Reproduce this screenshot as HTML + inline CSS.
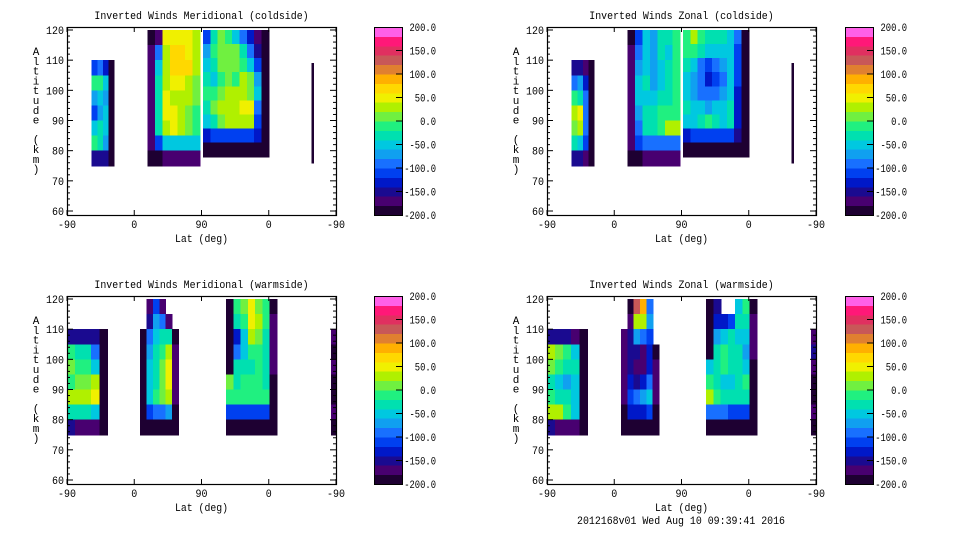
<!DOCTYPE html>
<html><head><meta charset="utf-8">
<style>
html,body{margin:0;padding:0;background:#fff;}
svg{display:block;font-family:"Liberation Mono","DejaVu Sans Mono",monospace;}
text{font-size:11px;fill:#000;}
</style></head>
<body>
<svg id="chart" width="960" height="540" viewBox="0 0 960 540" xmlns="http://www.w3.org/2000/svg"></svg>
<script>
// ---- colour scale (20 bands, -200..200) ----
const levelMin = -200, levelStep = 20;
const bandColors = ["#1e0032","#480070","#1a0a90","#0018c8","#0040f0","#1870ff","#10a0f0","#00c8e0","#00e0b0","#20f080","#70f040","#b0f000","#f0f000","#ffd800","#ffb000","#e08030","#c85858","#e03060","#ff1878","#ff60e8"];
const colorbarLabels = ["200.0","150.0","100.0","50.0","0.0","-50.0","-100.0","-150.0","-200.0"];
const xTickLabels = ["-90","0","90","0","-90"];
const yTickLabels = ["60","70","80","90","100","110","120"];

// ---- panel data: blocks [tStart, tEnd, altBottom, altTop], values rows top->bottom ----
const mcA = [[-120,-100,-130,-190],[-20,-10,-60,-200],[-80,-60,-70,-200],[-110,-70,-50,-200],[-60,-40,-60,-200],[-10,-30,-80,-200],[-150,-150,-160,-200]];
const mcB = [[-200,-180,40,40,50,40,30],[-180,-100,30,70,70,50,20],[-170,-60,20,70,70,60,20],[-170,-40,20,50,40,30,10],[-170,-40,40,30,20,20,0],[-170,-30,50,50,30,10,-10],[-170,-40,20,40,20,0,-20],[-180,-110,-60,-60,-50,-60,-60],[-200,-190,-180,-170,-170,-170,-170]];
const mcC = [[-120,-30,0,-20,-60,-100,-140,-170,-200],[-80,-20,10,10,0,-40,-100,-150,-200],[-60,-40,0,10,10,-20,-60,-120,-200],[-40,-60,-10,0,-10,20,0,-80,-200],[-20,-10,10,20,20,20,10,-60,-200],[-30,10,20,20,30,50,40,-100,-200],[-50,-30,10,20,20,20,20,-120,-200],[-140,-120,-110,-110,-120,-120,-120,-140,-200],[-200,-200,-200,-200,-200,-200,-200,-200,-200]];
const mcD = [[-200],[-200],[-200],[-200],[-200],[-200],[-200]];

const zcA = [[-160,-150,-170,-200],[-100,-80,-130,-200],[-10,-30,-100,-200],[30,50,-100,-200],[0,30,-100,-200],[-40,-60,-120,-200],[-160,-160,-170,-200]];
const zcB = [[-200,-120,-60,-80,-40,-40,-20],[-180,-90,-50,-80,-40,-50,-20],[-170,-80,-60,-70,-60,-30,-10],[-170,-60,-40,-70,-60,-40,-20],[-170,-60,-50,-60,-40,-30,-20],[-170,-80,-40,-30,-20,-10,-20],[-170,-90,-40,-30,-20,30,20],[-180,-120,-100,-100,-100,-100,-90],[-200,-190,-180,-170,-170,-170,-170]];
const zcC = [[-20,20,-20,-30,-40,-40,-50,-100,-200],[-20,-20,-40,-50,-60,-50,-60,-110,-200],[-40,-60,-90,-110,-100,-80,-60,-110,-200],[-50,-80,-100,-130,-120,-90,-60,-120,-200],[-50,-70,-90,-100,-100,-80,-50,-130,-200],[-40,-60,-60,-70,-60,-50,-40,-140,-200],[-60,-50,-30,-20,-40,-50,-40,-140,-200],[-140,-120,-110,-110,-120,-120,-120,-150,-200],[-200,-200,-200,-200,-200,-200,-200,-200,-200]];
const zcD = [[-200],[-200],[-200],[-200],[-200],[-200],[-200]];

const mwA = [[-150,-150,-150,-160,-200],[-20,-30,-40,-90,-200],[0,-10,-10,-50,-200],[-10,10,0,20,-200],[30,30,30,50,-200],[-30,-40,-40,-60,-200],[-160,-170,-170,-180,-200]];
const mwB = [[null,-180,-120,-180,null,null],[null,-150,-80,-100,-170,null],[-190,-100,-60,-40,-40,-190],[-190,-80,-40,-20,20,-180],[-190,-60,-30,0,40,-170],[-190,-60,-30,10,40,-170],[-190,-60,-20,0,20,-180],[-190,-120,-100,-90,-80,-190],[-200,-200,-200,-200,-200,-200]];
const mwC = [[-200,-20,10,40,10,-20,-190],[-190,-40,-20,50,20,-20,-180],[-190,-140,-60,30,0,-30,-170],[-190,-100,-60,-20,-20,-40,-170],[-190,-40,-40,-30,-20,-40,-180],[10,-30,-20,-20,-10,-30,-190],[-10,-20,-10,-10,-10,-20,-190],[-110,-110,-110,-110,-110,-120,-190],[-200,-200,-200,-200,-200,-200,-200]];
const mwD = [[-180],[-190],[-170],[-190],[-200],[-180],[-190]];

const zwA = [[-150,-150,-160,-170,-200],[20,10,-20,-60,-200],[0,-20,-30,-40,-200],[-40,-50,-80,-60,-200],[-20,-30,-40,-60,-200],[30,20,-10,-60,-200],[-160,-170,-170,-180,-200]];
const zwB = [[null,-200,120,80,-100,null],[null,-180,30,20,-80,null],[-180,-150,-80,-100,-120,null],[-180,-150,-160,-170,-140,-190],[-180,-150,-170,-180,-130,-180],[-180,-140,-150,-130,-100,-180],[-180,-120,-100,-80,-60,-180],[-190,-140,-130,-130,-120,-190],[-200,-200,-200,-200,-200,-200]];
const zwC = [[-190,-160,null,null,-60,-20,-190],[-190,-140,-130,-120,-40,-30,-180],[-190,-80,-60,-40,-60,-50,-180],[-190,-40,-20,-40,-30,-80,-180],[-60,-30,-10,-40,-30,-60,-190],[-20,-40,-60,-60,-40,-20,-190],[20,-20,-30,-40,-40,-40,-190],[-100,-100,-100,-110,-110,-120,-190],[-200,-200,-200,-200,-200,-200,-200]];
const zwD = [[-180],[-160],[-170],[-190],[-200],[-170],[-190]];

const panels = [
  {name:"meridional-coldside", title:"Inverted Winds Meridional (coldside)", ox:0, oy:0,
   blocks:[{r:[33,63,75,110],v:mcA},{r:[108,178,75,120],v:mcB},{r:[182,270,78,120],v:mcC},{r:[327,329.5,76,109],v:mcD}]},
  {name:"zonal-coldside", title:"Inverted Winds Zonal (coldside)", ox:480, oy:0,
   blocks:[{r:[33,63,75,110],v:zcA},{r:[108,178,75,120],v:zcB},{r:[182,270,78,120],v:zcC},{r:[327,329.5,76,109],v:zcD}]},
  {name:"meridional-warmside", title:"Inverted Winds Meridional (warmside)", ox:0, oy:269,
   blocks:[{r:[0,54,75,110],v:mwA},{r:[98,149,75,120],v:mwB},{r:[213,281,75,120],v:mwC},{r:[353,360,75,110],v:mwD}]},
  {name:"zonal-warmside", title:"Inverted Winds Zonal (warmside)", ox:480, oy:269,
   blocks:[{r:[0,54,75,110],v:zwA},{r:[99,150,75,120],v:zwB},{r:[213,281,75,120],v:zwC},{r:[353,360,75,110],v:zwD}]}
];

const NS="http://www.w3.org/2000/svg";
const svg=document.getElementById('chart');
function mk(tag,attrs,parent){const e=document.createElementNS(NS,tag);for(const k in attrs)e.setAttribute(k,attrs[k]);(parent||svg).appendChild(e);return e;}
function colorFor(v){let i=Math.floor((v-levelMin)/levelStep);if(i<0)i=0;if(i>bandColors.length-1)i=bandColors.length-1;return bandColors[i];}

panels.forEach(p=>{
  const L=67+p.ox, T=27+p.oy, W=269, H=188;
  const xs=t=>L+t/360*W;
  const ys=a=>p.oy+30+(120-a)*181/60;
  const g=mk('g',{});
  
  
  const plot=mk('g',{'shape-rendering':'crispEdges'},g);
  
  
  p.blocks.forEach(b=>{
    const [t0,t1,a0,a1]=b.r; const rows=b.v.length, cols=b.v[0].length;
    const dt=(t1-t0)/cols, da=(a1-a0)/rows;
    b.v.forEach((row,ri)=>row.forEach((val,ci)=>{
      if(val===null)return;
      const x0=xs(t0+ci*dt), x1=xs(t0+(ci+1)*dt);
      const yTop=ys(a1-ri*da), yBot=ys(a1-(ri+1)*da);
      const r=mk('rect',{x:x0,y:yTop,width:x1-x0+0.6,height:yBot-yTop+0.6,fill:colorFor(val)},plot);
      
      
    }));
  });
  const fr=mk('rect',{x:L+0.5,y:T+0.5,width:W,height:H,fill:'none',stroke:'#000','stroke-width':1.2},g);
  
  
  xTickLabels.forEach((lab,i)=>{
    const x=xs(i*90);
    mk('line',{x1:x,x2:x,y1:T+H,y2:T+H-5,stroke:'#000'},g);
    mk('line',{x1:x,x2:x,y1:T,y2:T+5,stroke:'#000'},g);
    const tx=mk('text',{x:x,y:T+H+13,'text-anchor':'middle',textLength:lab.length*6,lengthAdjust:'spacingAndGlyphs'},g);tx.textContent=lab;
    
    
  });
  for(let a=60;a<=120;a+=2){
    const y=ys(a), major=a%10===0, len=major?6:3;
    mk('line',{x1:L,x2:L+len,y1:y,y2:y,stroke:'#000'},g);
    mk('line',{x1:L+W,x2:L+W-len,y1:y,y2:y,stroke:'#000'},g);
  }
  yTickLabels.forEach(lab=>{
    const tx=mk('text',{x:L-3,y:ys(+lab)+4,'text-anchor':'end',textLength:lab.length*6,lengthAdjust:'spacingAndGlyphs'},g);tx.textContent=lab;
    
    
  });
  const tt=mk('text',{x:L+W/2,y:p.oy+19,'text-anchor':'middle',textLength:p.title.length*5.95,lengthAdjust:'spacingAndGlyphs'},g);tt.textContent=p.title;
  
  
  const xt=mk('text',{x:L+W/2,y:T+H+27,'text-anchor':'middle',textLength:53,lengthAdjust:'spacingAndGlyphs'},g);xt.textContent='Lat (deg)';
  
  
  const yt=mk('text',{x:36,y:0,'text-anchor':'middle','font-size':'12px'},g);
  
  
  "Altitude (km)".split('').forEach((ch,i)=>{const s=mk('tspan',{x:36+p.ox,y:p.oy+55+i*9.8},yt);s.textContent=ch;});
  const CX=374+p.ox-(p.ox?9:0), CW=28, CT=T, CH=H;
  const cb=mk('g',{'shape-rendering':'crispEdges'},g);
  
  
  bandColors.forEach((c,i)=>{
    const h=CH/bandColors.length;
    mk('rect',{x:CX,y:CT+CH-(i+1)*h,width:CW,height:h+0.5,fill:c},cb);
  });
  mk('rect',{x:CX+0.5,y:CT+0.5,width:CW,height:CH,fill:'none',stroke:'#000'},cb);
  colorbarLabels.forEach((lab,i)=>{
    const y=CT+i*CH/(colorbarLabels.length-1);
    if(i>0&&i<colorbarLabels.length-1) mk('line',{x1:CX+CW-6,x2:CX+CW,y1:y,y2:y,stroke:'#000'},cb);
    const tx=mk('text',{x:CX+CW+34,y:y+4,'text-anchor':'end','font-size':'12px',textLength:lab.length*5.3,lengthAdjust:'spacingAndGlyphs'},g);tx.textContent=lab;
    
    
  });
});
const ft=mk('text',{x:681,y:524,'text-anchor':'middle',textLength:208,lengthAdjust:'spacingAndGlyphs'});
ft.textContent='2012168v01 Wed Aug 10 09:39:41 2016';


</script>
</body></html>
